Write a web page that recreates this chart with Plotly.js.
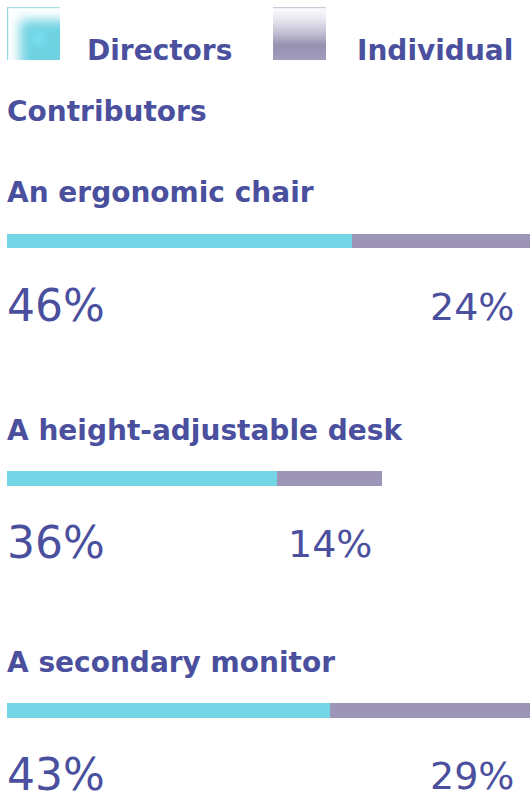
<!DOCTYPE html>
<html>
<head>
<meta charset="utf-8">
<script src="https://cdn.plot.ly/plotly-3.0.1.min.js"></script>
<style>
  html, body { margin: 0; padding: 0; background: #ffffff; overflow: hidden; }
  #chart { width: 530px; height: 793px; }
</style>
</head>
<body>
<div id="chart"></div>
<script>
// ---- data ----
const categories = ["An ergonomic chair", "A height-adjustable desk", "A secondary monitor"];
const seriesNames = ["Directors", "Individual Contributors"];
const directors = [46, 36, 43];
const individualContributors = [24, 14, 29];

// ---- style ----
const TEXT = "#4a4f9e";
const CYAN = "#73d5e5";
const PURPLE = "#9c95b8";
const FONT = "DejaVu Sans, sans-serif";
const W = 530, H = 793;
const rowCenters = [241, 478.3, 710.3];   // pixel centre of each row's bar (layout)
const ROW_H = 160;

const traces = [];
const annotations = [];
const layout = {
  width: W, height: H,
  margin: { l: 0, r: 0, t: 0, b: 0, pad: 0 },
  paper_bgcolor: "#ffffff", plot_bgcolor: "#ffffff",
  barmode: "stack", showlegend: false,
  xaxis: { domain: [7 / W, 1], range: [0, 523 / 7.5], visible: false, fixedrange: true },
  annotations: annotations
};

categories.forEach((c, i) => {
  const ax = i === 0 ? "y" : "y" + (i + 1);
  const axKey = i === 0 ? "yaxis" : "yaxis" + (i + 1);
  const top = rowCenters[i] - ROW_H / 2, bot = rowCenters[i] + ROW_H / 2;
  layout[axKey] = {
    type: "category", domain: [1 - bot / H, 1 - top / H], range: [-0.5, 0.5],
    visible: false, fixedrange: true
  };
  if (i > 0) layout[axKey].anchor = "x";
  traces.push({
    type: "bar", orientation: "h", name: seriesNames[0], xaxis: "x", yaxis: ax,
    y: [c], x: [directors[i]], width: 14.5 / ROW_H,
    marker: { color: CYAN, line: { width: 0 } }, hoverinfo: "skip"
  });
  traces.push({
    type: "bar", orientation: "h", name: seriesNames[1], xaxis: "x", yaxis: ax,
    y: [c], x: [individualContributors[i]], width: 14.5 / ROW_H,
    marker: { color: PURPLE, line: { width: 0 } }, hoverinfo: "skip"
  });
  annotations.push({
    xref: "x", yref: ax, x: 0, y: c, xanchor: "left", yanchor: "middle",
    xshift: -1, yshift: 48, text: "<b>" + c + "</b>", showarrow: false, borderpad: 0,
    font: { family: FONT, size: 28, color: TEXT }
  });
  annotations.push({
    xref: "x", yref: ax, x: 0, y: c, xanchor: "left", yanchor: "middle",
    xshift: -1, yshift: -64, text: directors[i] + "%", showarrow: false, borderpad: 0,
    font: { family: FONT, size: 44, color: TEXT }
  });
  const total = directors[i] + individualContributors[i];
  annotations.push({
    xref: "x", yref: ax, x: Math.min(total, 68.9), y: c, xanchor: "right", yanchor: "middle",
    xshift: -9, yshift: -66, text: individualContributors[i] + "%", showarrow: false, borderpad: 0,
    font: { family: FONT, size: 38, color: TEXT }
  });
});

// legend (custom)
function px(x) { return x / W; }
function py(y) { return 1 - y / H; }
annotations.push({
  xref: "paper", yref: "paper", x: px(86), y: py(50), xanchor: "left", yanchor: "middle",
  text: "<b>" + seriesNames[0] + "</b>", showarrow: false, borderpad: 0,
  font: { family: FONT, size: 28, color: TEXT }
});
annotations.push({
  xref: "paper", yref: "paper", x: px(356), y: py(50), xanchor: "left", yanchor: "middle",
  text: "<b>Individual</b>", showarrow: false, borderpad: 0,
  font: { family: FONT, size: 28, color: TEXT }
});
annotations.push({
  xref: "paper", yref: "paper", x: px(6), y: py(112), xanchor: "left", yanchor: "middle",
  text: "<b>Contributors</b>", showarrow: false, borderpad: 0,
  font: { family: FONT, size: 28, color: TEXT }
});

const svgDir = "<svg xmlns='http://www.w3.org/2000/svg' width='53' height='53' viewBox='0 0 53 53'>" +
  "<defs><filter id='b' x='-50%' y='-50%' width='200%' height='200%'><feGaussianBlur stdDeviation='6'/></filter>" +
  "<filter id='c' x='-50%' y='-50%' width='200%' height='200%'><feGaussianBlur stdDeviation='4'/></filter></defs>" +
  "<rect width='53' height='53' fill='#ffffff'/>" +
  "<rect x='13' y='13' width='70' height='70' fill='#6ed2e2' filter='url(#b)'/>" +
  "<circle cx='31' cy='31' r='6' fill='#7fe4f4' filter='url(#c)'/>" +
  "<rect x='0' y='0' width='53' height='1.2' fill='#a9e3e2'/>" +
  "<rect x='0' y='0' width='1.2' height='53' fill='#8fdbe4'/>" +
  "</svg>";
const svgIC = "<svg xmlns='http://www.w3.org/2000/svg' width='53' height='53' viewBox='0 0 53 53'>" +
  "<defs><linearGradient id='g' x1='0' y1='0' x2='0' y2='1'>" +
  "<stop offset='0' stop-color='#ffffff'/><stop offset='0.25' stop-color='#e6e4ee'/>" +
  "<stop offset='0.5' stop-color='#c2bdd2'/><stop offset='0.72' stop-color='#9790b0'/>" +
  "<stop offset='1' stop-color='#a29cbd'/></linearGradient></defs>" +
  "<rect width='53' height='53' fill='url(#g)'/>" +
  "<rect x='0' y='0' width='53' height='1.2' fill='#cdc9d8'/>" +
  "</svg>";
const uri = s => "data:image/svg+xml;charset=utf-8," + encodeURIComponent(s);

layout.images = [
  { source: uri(svgDir), xref: "paper", yref: "paper", x: px(7), y: py(7), sizex: 53 / W, sizey: 53 / H,
    sizing: "stretch", xanchor: "left", yanchor: "top", layer: "above" },
  { source: uri(svgIC), xref: "paper", yref: "paper", x: px(273), y: py(7), sizex: 53 / W, sizey: 53 / H,
    sizing: "stretch", xanchor: "left", yanchor: "top", layer: "above" }
];

Plotly.newPlot("chart", traces, layout, { staticPlot: true, displayModeBar: false });
</script>
</body>
</html>
